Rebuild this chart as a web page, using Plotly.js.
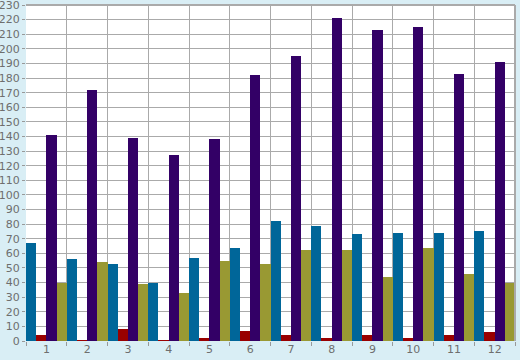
<!DOCTYPE html>
<html>
<head>
<meta charset="utf-8">
<script src="https://cdn.plot.ly/plotly-3.0.1.min.js"></script>
<style>html,body{margin:0;padding:0;background:#d9eef5;}#chart{width:520px;height:360px;}</style>
</head>
<body>
<div id="chart"></div>
<script>
var categories = ["1","2","3","4","5","6","7","8","9","10","11","12"];
var seriesBlue   = [67, 56, 53, 40, 57, 64, 82, 79, 73, 74, 74, 75];
var seriesRed    = [4, 1, 8, 1, 2, 7, 4, 2, 4, 2, 4, 6];
var seriesPurple = [141, 172, 139, 127, 138, 182, 195, 221, 213, 215, 183, 191];
var seriesOlive  = [40, 54, 39, 33, 55, 53, 62, 62, 44, 64, 46, 40];

var colors = ["#006699", "#990000", "#330066", "#999933"];
var allSeries = [seriesBlue, seriesRed, seriesPurple, seriesOlive];
var traces = allSeries.map(function(s, i){
  return {type:"bar", x:categories, y:s, marker:{color:colors[i], line:{width:0}}, hoverinfo:"none"};
});

var layout = {
  width:520, height:360,
  paper_bgcolor:"#d9eef5", plot_bgcolor:"#ffffff",
  margin:{l:26, r:5, t:5, b:19},
  barmode:"group", bargap:0, bargroupgap:0,
  showlegend:false,
  font:{family:"DejaVu Sans, Verdana, sans-serif", size:11, color:"#6e6e6e"},
  xaxis:{type:"category", tickson:"boundaries", ticks:"outside", ticklen:4, tickcolor:"#999999",
         showgrid:true, gridcolor:"#aaaaaa", gridwidth:1, showline:false, zeroline:false,
         tickfont:{size:11, color:"#6e6e6e"}},
  yaxis:{range:[0,230], dtick:10, ticks:"outside", ticklen:3, tickcolor:"#999999",
         showgrid:true, gridcolor:"#aaaaaa", gridwidth:1, zeroline:false, showline:false,
         tickfont:{size:11, color:"#6e6e6e"}, ticklabelstandoff:0, ticklabeloverflow:"allow"},
  shapes:[
    {type:"line", xref:"paper", yref:"paper", x0:0, x1:1, y0:1, y1:1, line:{color:"#aaaaaa", width:2}},
    {type:"line", xref:"paper", yref:"paper", x0:1, x1:1, y0:0, y1:1, line:{color:"#aaaaaa", width:2}}
  ]
};
Plotly.newPlot("chart", traces, layout, {staticPlot:true});
</script>
</body>
</html>
